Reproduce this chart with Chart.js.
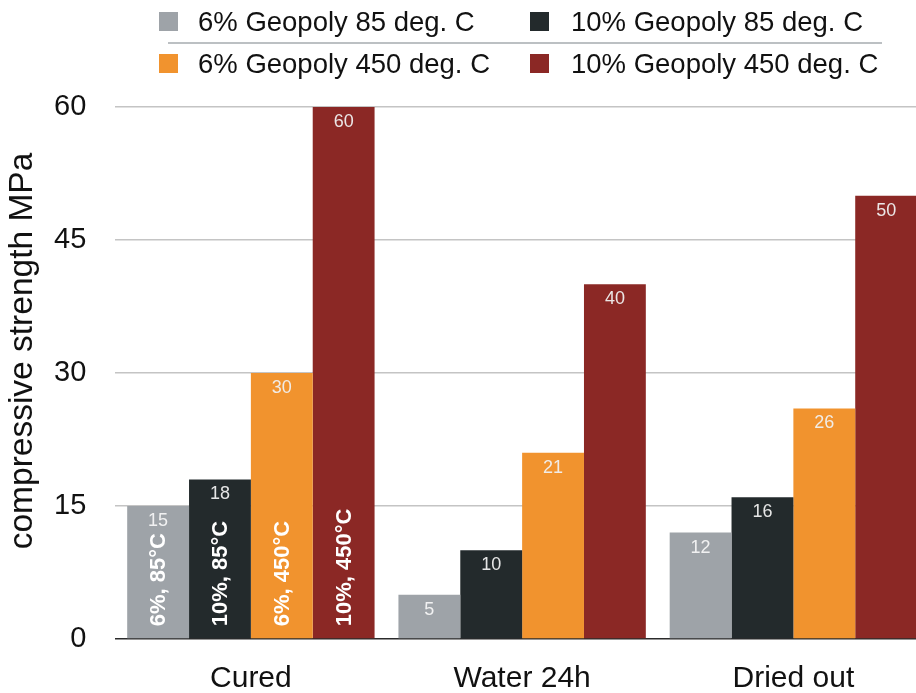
<!DOCTYPE html>
<html>
<head>
<meta charset="utf-8">
<script src="https://cdn.jsdelivr.net/npm/chart.js@4/dist/chart.umd.min.js"></script>
<style>
  html, body { margin: 0; padding: 0; background: #fff; overflow: hidden; }
  #wrap { position: absolute; left: 0; top: 0; width: 930px; height: 719px; }
  #legend { position: absolute; left: 0; top: 0; width: 916px; height: 90px; font-family: "Liberation Sans", Arial, sans-serif; color: #111; }
  .lg-item { position: absolute; height: 30px; line-height: 30px; font-size: 27.5px; white-space: nowrap; }
  .lg-box { position: absolute; width: 19px; height: 19px; }
  .lg-text { position: absolute; }
  #lg-sep { position: absolute; left: 168px; top: 42px; width: 714px; height: 2px; background: #bcc0c3; }
</style>
</head>
<body>
<div id="wrap"><canvas id="c" width="930" height="719"></canvas></div>
<div id="legend"><div id="lg-sep"></div></div>
<script>
// Test conditions along the x axis
const categories = ['Cured', 'Water 24h', 'Dried out'];

// Compressive strength (MPa) per mix
const series6pc85 = [15, 5, 12];
const series10pc85 = [18, 10, 16];
const series6pc450 = [30, 21, 26];
const series10pc450 = [60, 40, 50];

const seriesNames = ['6% Geopoly 85 deg. C', '10% Geopoly 85 deg. C', '6% Geopoly 450 deg. C', '10% Geopoly 450 deg. C'];
const seriesShort = ['6%, 85°C', '10%, 85°C', '6%, 450°C', '10%, 450°C'];
const seriesColors = ['#9ea3a8', '#232a2c', '#f1932e', '#8b2825'];
const yTicks = [0, 15, 30, 45, 60];
const yTitle = 'compressive strength MPa';

const FONT = '"Liberation Sans", Arial, sans-serif';

// Legend: two rows of two entries, with a rule between the rows
(function buildLegend() {
  const legend = document.getElementById('legend');
  const cols = [159, 530];
  const rows = [22, 64];
  // row 1 = 85 deg series, row 2 = 450 deg series
  const layout = [[0, 0, 0], [1, 1, 0], [2, 0, 1], [3, 1, 1]];
  layout.forEach(([idx, col, row]) => {
    const item = document.createElement('div');
    item.className = 'lg-item';
    item.style.left = cols[col] + 'px';
    item.style.top = (rows[row] - 15) + 'px';
    const box = document.createElement('div');
    box.className = 'lg-box';
    box.style.left = '0px';
    box.style.top = '5px';
    box.style.background = seriesColors[idx];
    const txt = document.createElement('div');
    txt.className = 'lg-text';
    txt.style.left = (col === 0 ? 39 : 41) + 'px';
    txt.style.top = '0px';
    txt.textContent = seriesNames[idx];
    item.appendChild(box);
    item.appendChild(txt);
    legend.appendChild(item);
  });
})();

// Value written inside the top of each bar, plus the rotated mix tag on the first group
const barLabels = {
  id: 'barLabels',
  afterDatasetsDraw(chart) {
    const ctx = chart.ctx;
    ctx.save();
    chart.data.datasets.forEach((ds, i) => {
      const meta = chart.getDatasetMeta(i);
      meta.data.forEach((bar, j) => {
        ctx.font = '18px ' + FONT;
        ctx.fillStyle = i === 0 ? 'rgba(245,245,245,0.95)' : 'rgba(240,240,240,0.95)';
        ctx.textAlign = 'center';
        ctx.textBaseline = 'middle';
        ctx.fillText(String(ds.data[j]), bar.x, bar.y + 15);
      });
      const first = meta.data[0];
      ctx.save();
      ctx.translate(first.x + 1, first.base - 12);
      ctx.rotate(-Math.PI / 2);
      ctx.font = 'bold 22px ' + FONT;
      ctx.fillStyle = '#ffffff';
      ctx.textAlign = 'left';
      ctx.textBaseline = 'middle';
      ctx.fillText(seriesShort[i], 0, 0);
      ctx.restore();
    });
    ctx.restore();
  },
  afterDraw(chart) {
    const ctx = chart.ctx;
    const area = chart.chartArea;
    ctx.save();
    ctx.translate(23, (area.top + area.bottom) / 2 - 22);
    ctx.rotate(-Math.PI / 2);
    ctx.font = '33.5px ' + FONT;
    ctx.fillStyle = '#111';
    ctx.textAlign = 'center';
    ctx.textBaseline = 'middle';
    ctx.fillText(yTitle, 0, 0);
    ctx.restore();
  }
};

const allSeries = [series6pc85, series10pc85, series6pc450, series10pc450];

new Chart(document.getElementById('c'), {
  type: 'bar',
  data: {
    labels: categories,
    datasets: allSeries.map((vals, i) => ({
      label: seriesNames[i],
      data: vals,
      backgroundColor: seriesColors[i],
      borderWidth: 0,
      categoryPercentage: 0.912,
      barPercentage: 1.0
    }))
  },
  options: {
    responsive: false,
    devicePixelRatio: 1,
    animation: false,
    layout: { padding: { left: 25, right: 1, top: 107, bottom: 0 } },
    plugins: {
      legend: { display: false },
      tooltip: { enabled: false }
    },
    scales: {
      x: {
        grid: { display: false, drawTicks: false },
        border: { display: true, color: '#2b2b2b', width: 1.5 },
        ticks: {
          color: '#111',
          font: { family: FONT, size: 30, lineHeight: 1 },
          padding: 25
        }
      },
      y: {
        min: 0,
        max: 60,
        afterBuildTicks(axis) { axis.ticks = yTicks.map(v => ({ value: v })); },
        grid: {
          drawTicks: false,
          color: ctx => (ctx.tick && ctx.tick.value === 0 ? 'rgba(0,0,0,0)' : '#c4c4c4'),
          lineWidth: 1.5
        },
        border: { display: false },
        ticks: {
          color: '#111',
          font: { family: FONT, size: 29 },
          padding: 29
        }
      }
    }
  },
  plugins: [barLabels]
});
</script>
</body>
</html>
